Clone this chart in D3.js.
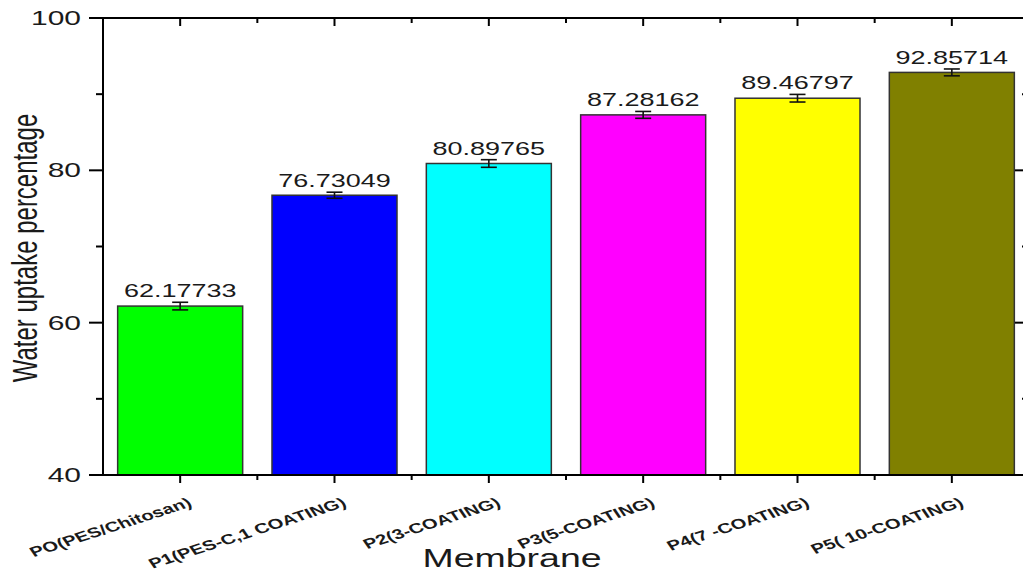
<!DOCTYPE html>
<html>
<head>
<meta charset="utf-8">
<script src="https://cdn.jsdelivr.net/npm/d3@7"></script>
<style>
  html, body { margin: 0; padding: 0; background: #fff; }
  svg { display: block; font-family: "Liberation Sans", Arial, sans-serif; }
</style>
</head>
<body>
<svg id="chart" width="1023" height="573"></svg>
<script>
// Water uptake of each membrane
const categories = ["PO(PES/Chitosan)", "P1(PES-C,1 COATING)", "P2(3-COATING)", "P3(5-COATING)", "P4(7 -COATING)", "P5( 10-COATING)"];
const uptake = [62.17733, 76.73049, 80.89765, 87.28162, 89.46797, 92.85714];
const uptakeErr = [0.5, 0.4, 0.5, 0.45, 0.5, 0.45];
const barColors = ["#00ff00", "#0000ff", "#00ffff", "#ff00ff", "#ffff00", "#808000"];
const yMajorTicks = [40, 60, 80, 100];
const yMinorTicks = [50, 70, 90];

const svg = d3.select("#chart");
const plot = { left: 103, right: 1029, top: 18, bottom: 475 };
const SX = 1.5; // horizontal stretch of the lettering

const x = d3.scaleBand()
  .domain(categories)
  .range([plot.left, plot.right])
  .paddingInner(0.19)
  .paddingOuter(0.095);

const y = d3.scaleLinear().domain([40, 100]).range([plot.bottom, plot.top]);

const data = categories.map((c, i) => ({ c, v: uptake[i], e: uptakeErr[i], col: barColors[i] }));

// bars
svg.append("g").selectAll("rect")
  .data(data).join("rect")
  .attr("x", d => x(d.c))
  .attr("y", d => y(d.v))
  .attr("width", x.bandwidth())
  .attr("height", d => y(40) - y(d.v))
  .attr("fill", d => d.col)
  .attr("stroke", "#333")
  .attr("stroke-width", 1.5);

// error bars
const eb = svg.append("g").attr("stroke", "#111").attr("stroke-width", 1.6);
data.forEach(d => {
  const cx = x(d.c) + x.bandwidth() / 2;
  eb.append("line").attr("x1", cx).attr("x2", cx).attr("y1", y(d.v + d.e)).attr("y2", y(d.v - d.e));
  eb.append("line").attr("x1", cx - 8).attr("x2", cx + 8).attr("y1", y(d.v + d.e)).attr("y2", y(d.v + d.e));
  eb.append("line").attr("x1", cx - 8).attr("x2", cx + 8).attr("y1", y(d.v - d.e)).attr("y2", y(d.v - d.e));
});

// value labels
svg.append("g").selectAll("text")
  .data(data).join("text")
  .attr("transform", d => `translate(${x(d.c) + x.bandwidth() / 2},${y(d.v + d.e) - 5}) scale(${SX},1)`)
  .attr("text-anchor", "middle")
  .attr("font-size", 18)
  .attr("fill", "#1a1a1a")
  .text(d => d.v.toFixed(5));

// axes
const centers = categories.map(c => x(c) + x.bandwidth() / 2);
const boundaries = categories.slice(1).map(c => x(c) - x.step() * x.paddingInner() / 2);

function drawTicks(g, list, fn) {
  list.forEach(v => { const [x1, y1, x2, y2] = fn(v); g.append("line").attr("x1", x1).attr("y1", y1).attr("x2", x2).attr("y2", y2); });
}
const ax = svg.append("g").attr("stroke", "#000").attr("stroke-width", 2);
// left
drawTicks(ax, yMajorTicks, v => [plot.left - 14, y(v), plot.left, y(v)]);
drawTicks(ax, yMinorTicks, v => [plot.left - 7, y(v), plot.left, y(v)]);
// right
drawTicks(ax, yMajorTicks, v => [plot.right - 14, y(v), plot.right, y(v)]);
drawTicks(ax, yMinorTicks, v => [plot.right - 7, y(v), plot.right, y(v)]);
// bottom
drawTicks(ax, centers, v => [v, plot.bottom, v, plot.bottom + 8]);
drawTicks(ax, boundaries, v => [v, plot.bottom, v, plot.bottom + 5]);
// top
drawTicks(ax, centers, v => [v, plot.top, v, plot.top + 8]);
drawTicks(ax, boundaries, v => [v, plot.top, v, plot.top + 5]);
// frame
ax.append("line").attr("x1", plot.left).attr("x2", plot.left).attr("y1", plot.top - 1).attr("y2", plot.bottom + 1);
ax.append("line").attr("x1", plot.right).attr("x2", plot.right).attr("y1", plot.top - 1).attr("y2", plot.bottom + 1);
ax.append("line").attr("x1", plot.left - 1).attr("x2", plot.right + 1).attr("y1", plot.top).attr("y2", plot.top);
ax.append("line").attr("x1", plot.left - 1).attr("x2", plot.right + 1).attr("y1", plot.bottom).attr("y2", plot.bottom);

// y tick labels
svg.append("g").selectAll("text")
  .data(yMajorTicks).join("text")
  .attr("transform", v => `translate(${plot.left - 22},${y(v) + 7}) scale(${SX},1)`)
  .attr("text-anchor", "end")
  .attr("font-size", 20)
  .attr("fill", "#1a1a1a")
  .text(v => v);

// category labels
svg.append("g").selectAll("text")
  .data(categories).join("text")
  .attr("transform", c => `translate(${x(c) + x.bandwidth() / 2 + 13},${plot.bottom + 31}) scale(1.45,1) rotate(-25)`)
  .attr("text-anchor", "end")
  .attr("font-size", 14)
  .attr("font-weight", "bold")
  .attr("fill", "#1a1a1a")
  .text(c => c);

// axis titles
svg.append("text")
  .attr("transform", `translate(512,567) scale(${SX},1)`)
  .attr("text-anchor", "middle")
  .attr("font-size", 25)
  .attr("fill", "#1a1a1a")
  .text("Membrane");

svg.append("text")
  .attr("transform", `translate(37,248) scale(1.45,1) rotate(-90)`)
  .attr("text-anchor", "middle")
  .attr("font-size", 24)
  .attr("fill", "#1a1a1a")
  .text("Water uptake percentage");
</script>
</body>
</html>
